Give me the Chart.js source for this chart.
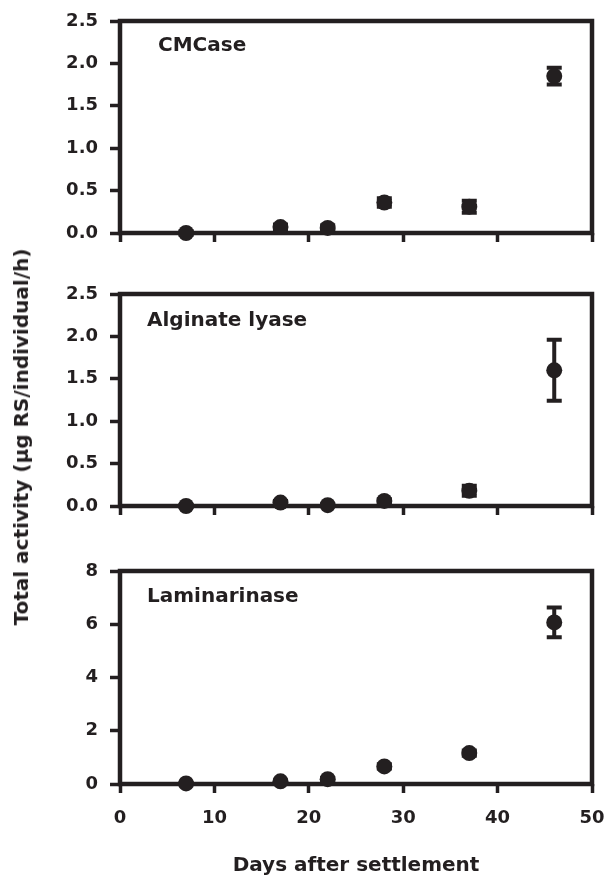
<!DOCTYPE html>
<html>
<head>
<meta charset="utf-8">
<script src="https://cdn.jsdelivr.net/npm/chart.js@4"></script>
<style>
  html, body { margin: 0; padding: 0; background: #fff; }
  #wrap { position: relative; width: 607px; height: 878px; }
  #wrap canvas { position: absolute; left: 0; top: 0; }
  #ytitle {
    position: absolute; left: 21px; top: 437px;
    transform: translate(-50%, -50%) rotate(-90deg);
    white-space: nowrap; color: #231f20;
    font: bold 20px "DejaVu Sans", sans-serif;
  }
</style>
</head>
<body>
<div id="wrap">
  <canvas id="c1" width="607" height="878"></canvas>
  <canvas id="c2" width="607" height="878"></canvas>
  <canvas id="c3" width="607" height="878"></canvas>
  <div id="ytitle">Total activity (µg RS/individual/h)</div>
</div>
<script>
// days after settlement
const days = [7, 17, 22, 28, 37, 46];

// mean activity and error (µg RS/individual/h)
const cmcase = [0.0, 0.07, 0.06, 0.36, 0.31, 1.85];
const cmcaseErr = [0.02, 0.03, 0.03, 0.05, 0.07, 0.1];
const alginate = [0.0, 0.04, 0.01, 0.06, 0.18, 1.6];
const alginateErr = [0.01, 0.02, 0.01, 0.02, 0.06, 0.36];
const laminarin = [0.02, 0.1, 0.18, 0.66, 1.16, 6.07];
const laminarinErr = [0.02, 0.03, 0.05, 0.08, 0.1, 0.56];

const ink = "#231f20";
const fam = "'DejaVu Sans', sans-serif";
Chart.defaults.font.family = fam;
Chart.defaults.color = ink;

// frame, error bars and panel label
const panelDeco = {
  id: "panelDeco",
  beforeDatasetsDraw(chart, args, opts) {
    const { ctx, chartArea: a, scales } = chart;
    ctx.save();
    ctx.strokeStyle = ink;
    ctx.lineWidth = 4.5;
    ctx.strokeRect(a.left, a.top, a.right - a.left, a.bottom - a.top);

    ctx.lineWidth = 4;
    opts.errors.forEach((e, i) => {
      const x = scales.x.getPixelForValue(days[i]);
      const y1 = scales.y.getPixelForValue(opts.values[i] + e);
      const y2 = scales.y.getPixelForValue(opts.values[i] - e);
      ctx.beginPath();
      ctx.moveTo(x, y1); ctx.lineTo(x, y2);
      ctx.moveTo(x - 7.5, y1); ctx.lineTo(x + 7.5, y1);
      ctx.moveTo(x - 7.5, y2); ctx.lineTo(x + 7.5, y2);
      ctx.stroke();
    });

    ctx.fillStyle = ink;
    ctx.font = "bold 20px " + fam;
    ctx.textBaseline = "middle";
    ctx.fillText(opts.label, a.left + opts.dx, a.top + opts.dy);
    ctx.restore();
  }
};

function makePanel(id, label, values, errors, yMax, yStep, dec, top, bottom, showX, dx, dy) {
  const axisH = showX ? 94 : 10;
  return new Chart(document.getElementById(id), {
    type: "scatter",
    data: {
      datasets: [{
        data: days.map((d, i) => ({ x: d, y: values[i] })),
        pointRadius: 8,
        pointHoverRadius: 8,
        backgroundColor: ink,
        borderWidth: 0,
        clip: false
      }]
    },
    options: {
      responsive: false,
      animation: false,
      devicePixelRatio: 1,
      events: [],
      layout: { padding: { top: top, right: 15, left: 0, bottom: 878 - bottom - axisH } },
      plugins: {
        legend: { display: false },
        tooltip: { enabled: false },
        panelDeco: { label, values, errors, dx, dy }
      },
      scales: {
        x: {
          type: "linear", min: 0, max: 50,
          afterFit: (s) => { s.height = axisH; s.paddingLeft = 0; s.paddingRight = 0; },
          border: { display: false },
          grid: { drawOnChartArea: false, drawTicks: true, tickLength: 9, tickWidth: 3.5, tickColor: ink },
          ticks: { display: showX, stepSize: 10, padding: 15, font: { size: 18, weight: "bold" } },
          title: {
            display: showX, text: "Days after settlement",
            font: { size: 20, weight: "bold" }, padding: { top: 0, bottom: 0 }
          }
        },
        y: {
          min: 0, max: yMax,
          afterFit: (s) => { s.width = 120; s.paddingTop = 0; s.paddingBottom = 0; },
          border: { display: false },
          grid: { drawOnChartArea: false, drawTicks: true, tickLength: 10, tickWidth: 3.5, tickColor: ink },
          ticks: {
            stepSize: yStep, padding: 12, font: { size: 18, weight: "bold" },
            callback: (v) => v.toFixed(dec)
          }
        }
      }
    },
    plugins: [panelDeco]
  });
}

makePanel("c1", "CMCase", cmcase, cmcaseErr, 2.5, 0.5, 1, 21, 233, false, 38, 25);
makePanel("c2", "Alginate lyase", alginate, alginateErr, 2.5, 0.5, 1, 294, 506, false, 27, 27);
makePanel("c3", "Laminarinase", laminarin, laminarinErr, 8, 2, 0, 571, 784, true, 27, 26);
</script>
</body>
</html>
